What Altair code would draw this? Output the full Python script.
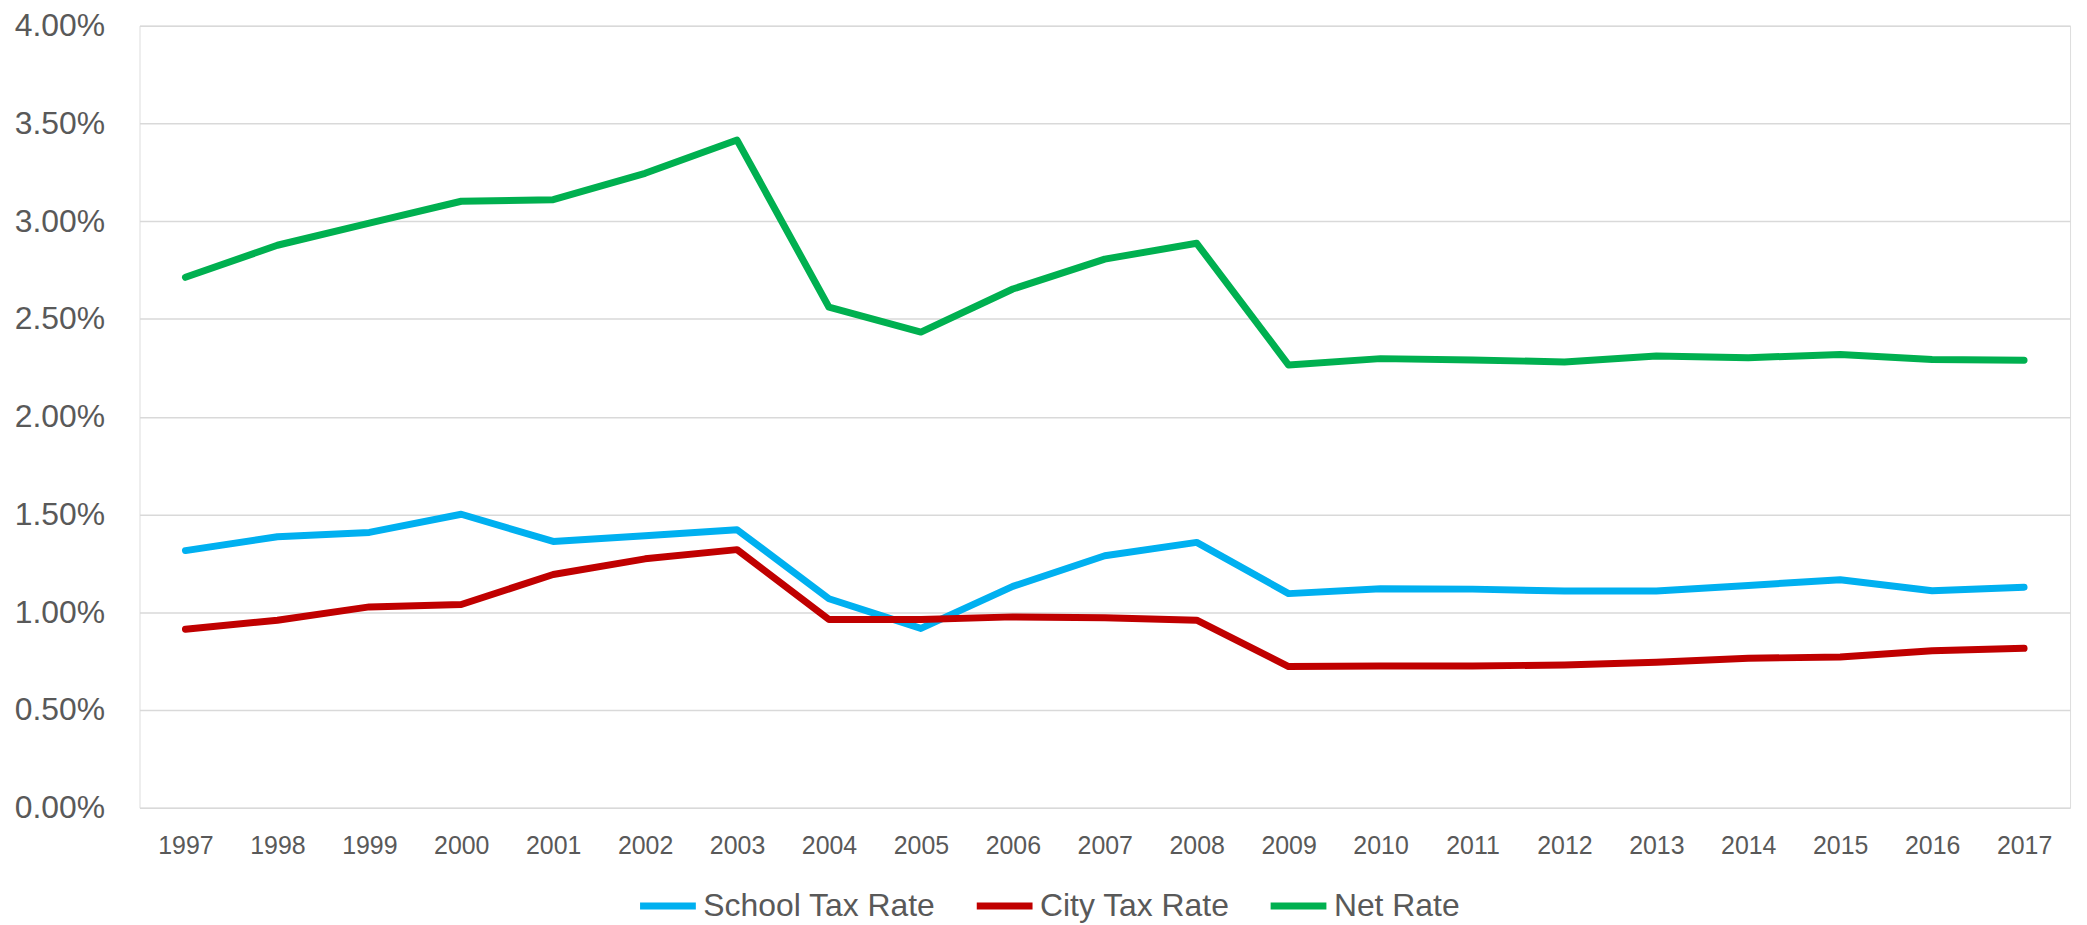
import altair as alt
import pandas as pd

years = [str(y) for y in range(1997, 2018)]
school = [1.315, 1.386, 1.408, 1.501, 1.362, 1.391, 1.422, 1.069, 0.917, 1.132, 1.289,
          1.357, 1.095, 1.120, 1.118, 1.108, 1.108, 1.137, 1.166, 1.110, 1.128]
city = [0.913, 0.959, 1.027, 1.039, 1.193, 1.273, 1.320, 0.963, 0.963, 0.976, 0.971,
        0.959, 0.722, 0.725, 0.725, 0.730, 0.744, 0.764, 0.771, 0.803, 0.815]
net = [2.713, 2.877, 2.990, 3.102, 3.110, 3.245, 3.415, 2.560, 2.433, 2.653, 2.806,
       2.887, 2.264, 2.297, 2.290, 2.280, 2.310, 2.302, 2.318, 2.292, 2.289]
series = ["School Tax Rate", "City Tax Rate", "Net Rate"]
colors = ["#00B0F0", "#C00000", "#00B050"]

rows = []
for name, vals in zip(series, [school, city, net]):
    for y, v in zip(years, vals):
        rows.append({"Year": y, "Series": name, "Rate": v / 100.0})
df = pd.DataFrame(rows)

FONT = "Liberation Sans"
TXT = "#595959"

chart = alt.Chart(df).mark_line(strokeWidth=7, strokeCap="round", strokeJoin="round").encode(
    x=alt.X("Year:O", sort=years, title=None,
            scale=alt.Scale(type="point", padding=0.5),
            axis=alt.Axis(labelAngle=0, ticks=False, tickSize=0, domain=False, grid=False,
                          labelFont=FONT, labelFontSize=25, labelColor=TXT,
                          labelBaseline="alphabetic", labelPadding=46)),
    y=alt.Y("Rate:Q", title=None,
            scale=alt.Scale(domain=[0, 0.04], nice=False, zero=True),
            axis=alt.Axis(format=".2%", values=[i * 0.005 for i in range(9)],
                          ticks=False, tickSize=0, domain=False,
                          grid=True, gridColor="#D9D9D9", gridWidth=1.5,
                          labelFont=FONT, labelFontSize=32, labelColor=TXT,
                          labelPadding=35)),
    color=alt.Color("Series:N", sort=series,
                    scale=alt.Scale(domain=series, range=colors),
                    legend=alt.Legend(title=None, orient="none", direction="horizontal",
                                      legendX=499, legendY=852,
                                      symbolType="stroke", symbolSize=3136,
                                      symbolStrokeWidth=7,
                                      labelFont=FONT, labelFontSize=32, labelColor=TXT,
                                      labelLimit=400, labelOffset=4, columnPadding=26)),
).properties(
    width=1938, height=785,
    autosize=alt.AutoSizeParams(type="none"),
    padding={"left": 132, "top": 16, "right": 9, "bottom": 114},
).configure_view(stroke=None).configure(background="white")

chart.save("out.html", embed_options={"renderer": "svg", "actions": False})
